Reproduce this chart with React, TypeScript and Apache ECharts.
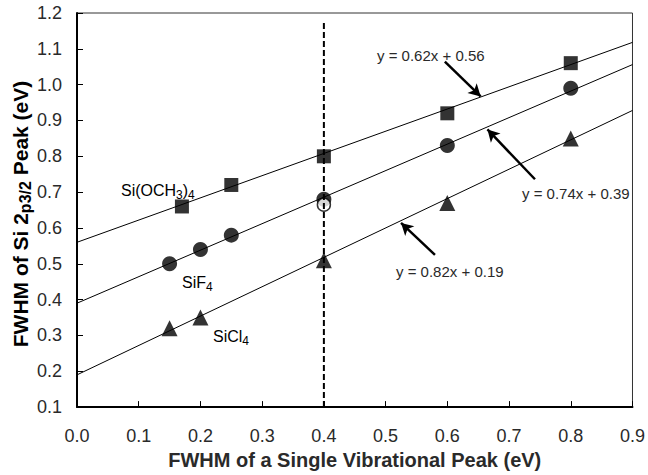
import React, { useEffect, useRef } from "react";
import * as echarts from "echarts";

const xTicks = [0, 0.1, 0.2, 0.3, 0.4, 0.5, 0.6, 0.7, 0.8, 0.9];

const ochX = [0.17, 0.25, 0.4, 0.6, 0.8];
const ochY = [0.66, 0.72, 0.8, 0.92, 1.06];

const sifX = [0.15, 0.2, 0.25, 0.4, 0.6, 0.8];
const sifY = [0.5, 0.54, 0.58, 0.68, 0.83, 0.99];

const openX = [0.4];
const openY = [0.665];

const siclX = [0.15, 0.2, 0.4, 0.6, 0.8];
const siclY = [0.32, 0.35, 0.51, 0.67, 0.85];

// fitted trend lines (endpoints at x = 0 and x = 0.9)
const fitOch = [[0, 0.56], [0.9, 1.118]];
const fitSif = [[0, 0.39], [0.9, 1.056]];
const fitSicl = [[0, 0.19], [0.9, 0.928]];

const dashLine = [[0.4, 0.1], [0.4, 1.18]];

// arrows: [tail, head]
const arrows = [
  [[0.596, 1.064], [0.654, 0.967]],
  [[0.742, 0.736], [0.665, 0.875]],
  [[0.58, 0.525], [0.525, 0.614]],
];

const eqLabels = ["y = 0.62x + 0.56", "y = 0.74x + 0.39", "y = 0.82x + 0.19"];

const zip = (xs: number[], ys: number[]) => xs.map((x, i) => [x, ys[i]]);

const FONT = "Liberation Sans, Arial, sans-serif";
const TXT = "#2a2a2a";

export default function App() {
  const ref = useRef<HTMLDivElement>(null);
  useEffect(() => {
    if (!ref.current) return;
    const chart = echarts.init(ref.current, undefined, { renderer: "svg" });
    const subRich = {
      n: { fontSize: 16, fontFamily: FONT, color: TXT, lineHeight: 22 },
      s: { fontSize: 12, fontFamily: FONT, color: TXT, lineHeight: 22, verticalAlign: "bottom" },
    };
    const eqStyle = (text: string) => ({
      text,
      fontSize: 15,
      fontFamily: FONT,
      fill: TXT,
      verticalAlign: "middle",
      align: "left",
    });
    chart.setOption({
      animation: false,
      backgroundColor: "#fff",
      textStyle: { fontFamily: FONT },
      grid: {
        left: 77,
        top: 13,
        right: 12,
        bottom: 66,
        show: true,
        borderColor: "#333",
        borderWidth: 1,
      },
      xAxis: {
        type: "value",
        min: 0,
        max: 0.9,
        interval: 0.1,
        axisLine: { show: true, onZero: false, lineStyle: { color: "#000", width: 2 } },
        axisTick: { show: true, inside: true, length: 6, lineStyle: { color: "#000", width: 1 } },
        axisLabel: {
          fontSize: 18,
          color: TXT,
          margin: 20,
          formatter: (v: number) => v.toFixed(1),
          customValues: xTicks,
        },
        splitLine: { show: false },
        name: "FWHM of a Single Vibrational Peak (eV)",
        nameLocation: "middle",
        nameGap: 41,
        nameTextStyle: { fontSize: 20, fontWeight: "bold", color: TXT, fontFamily: FONT },
      },
      yAxis: {
        type: "value",
        min: 0.1,
        max: 1.2,
        interval: 0.1,
        axisLine: { show: true, onZero: false, lineStyle: { color: "#000", width: 2 } },
        axisTick: { show: true, inside: true, length: 6, lineStyle: { color: "#000", width: 1 } },
        axisLabel: {
          fontSize: 18,
          color: TXT,
          margin: 15,
          formatter: (v: number) => v.toFixed(1),
        },
        splitLine: { show: false },
      },
      graphic: [
        {
          type: "text",
          x: 20,
          y: 214,
          rotation: Math.PI / 2,
          style: {
            text: "{b|FWHM of Si 2}{s|p3/2}{b| Peak (eV)}",
            align: "center",
            verticalAlign: "middle",
            rich: {
              b: { fontSize: 21, fontWeight: "bold", fontFamily: FONT, color: TXT, lineHeight: 26 },
              s: { fontSize: 16, fontWeight: "bold", fontFamily: FONT, color: TXT, lineHeight: 26, verticalAlign: "bottom" },
            },
          },
        },
        { type: "text", x: 377, y: 55, style: eqStyle(eqLabels[0]) },
        { type: "text", x: 522, y: 193, style: eqStyle(eqLabels[1]) },
        { type: "text", x: 396, y: 271, style: eqStyle(eqLabels[2]) },
        {
          type: "text",
          x: 121,
          y: 190,
          style: { text: "{n|Si(OCH}{s|3}{n|)}{s|4}", verticalAlign: "middle", rich: subRich },
        },
        {
          type: "text",
          x: 182,
          y: 282,
          style: { text: "{n|SiF}{s|4}", verticalAlign: "middle", rich: subRich },
        },
        {
          type: "text",
          x: 213,
          y: 336,
          style: { text: "{n|SiCl}{s|4}", verticalAlign: "middle", rich: subRich },
        },
      ],
      series: [
        {
          type: "line",
          data: fitOch,
          symbol: "none",
          lineStyle: { color: "#000", width: 1 },
          z: 2,
        },
        {
          type: "line",
          data: fitSif,
          symbol: "none",
          lineStyle: { color: "#000", width: 1 },
          z: 2,
        },
        {
          type: "line",
          data: fitSicl,
          symbol: "none",
          lineStyle: { color: "#000", width: 1 },
          z: 2,
        },
        {
          type: "scatter",
          data: zip(ochX, ochY),
          symbol: "rect",
          symbolSize: 14,
          itemStyle: { color: "#000" },
          z: 3,
        },
        {
          type: "scatter",
          data: zip(sifX, sifY),
          symbol: "circle",
          symbolSize: 15,
          itemStyle: { color: "#000" },
          z: 3,
        },
        {
          type: "scatter",
          data: zip(openX, openY),
          symbol: "circle",
          symbolSize: 13,
          itemStyle: { color: "#fff", borderColor: "#000", borderWidth: 1.5 },
          z: 4,
        },
        {
          type: "scatter",
          data: zip(siclX, siclY),
          symbol: "triangle",
          symbolSize: 16,
          itemStyle: { color: "#000" },
          z: 3,
        },
        {
          type: "line",
          data: dashLine,
          symbol: "none",
          lineStyle: { color: "#000", width: 2, type: [6, 3] },
          z: 5,
        },
        {
          type: "line",
          data: [],
          markLine: {
            silent: true,
            symbol: ["none", "arrow"],
            symbolSize: [10, 12],
            label: { show: false },
            lineStyle: { color: "#000", width: 2.5, type: "solid" },
            data: arrows.map(([t, h]) => [{ coord: t }, { coord: h }]),
          },
          z: 6,
        },
      ],
    });
    return () => chart.dispose();
  }, []);
  return (
    <div
      ref={ref}
      style={{ position: "absolute", left: 0, top: 0, width: 648, height: 475 }}
    />
  );
}
